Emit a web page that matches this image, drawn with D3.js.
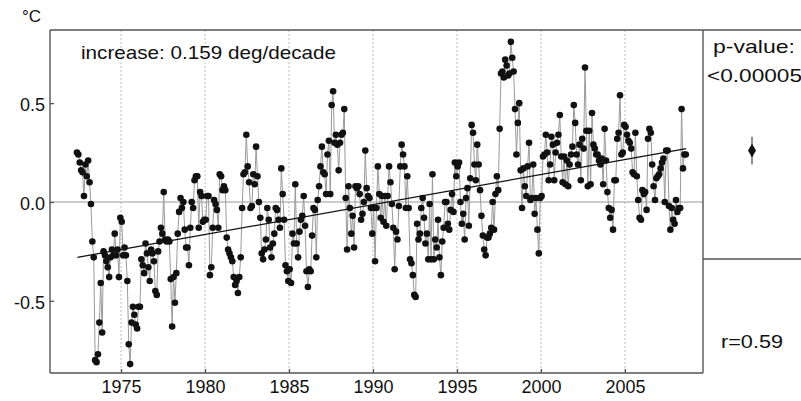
<!DOCTYPE html>
<html>
<head>
<meta charset="utf-8">
<script src="https://cdn.jsdelivr.net/npm/d3@7"></script>
<style>
  body { margin: 0; background: #fff; }
  svg text { font-family: "Liberation Sans", Arial, sans-serif; fill: #111; }
</style>
</head>
<body>
<div id="chart"></div>
<script>
/* DATA (monthly anomalies, deg C) */
const startYear = 1972.375; // first month (May 1972)

const anom1970s = [
  0.25, 0.24, 0.20, 0.16, 0.15, 0.03, 0.19, 0.13, 0.21, 0.10,
  -0.01, -0.20, -0.28, -0.80, -0.81, -0.77, -0.61, -0.41, -0.66, -0.25,
  -0.27, -0.30, -0.33, -0.38, -0.28, -0.24, -0.27, -0.16, -0.27, -0.24,
  -0.38, -0.08, -0.10, -0.27, -0.23, -0.27, -0.40, -0.72, -0.82, -0.61,
  -0.53, -0.57, -0.62, -0.64, -0.53, -0.53, -0.29, -0.32, -0.36, -0.21,
  -0.26, -0.33, -0.40, -0.24, -0.26, -0.30, -0.45, -0.47, -0.25, -0.20,
  -0.13, -0.16, 0.05, -0.19, -0.20,
  -0.19, -0.20, -0.39, -0.63, -0.38, -0.51, -0.36, -0.16, -0.05, 0.02,
  -0.03, 0.00, -0.14, -0.23, -0.23, -0.32, -0.13, 0.00, -0.03, 0.11,
  0.13, 0.13, -0.13, 0.05, 0.03, -0.10, -0.09
];

const anom1980s = [
  -0.09, 0.03, 0.03, -0.37, -0.33, -0.13, 0.01, -0.01, -0.04, -0.13,
  0.14, 0.13, 0.06, 0.08, 0.06, -0.18, -0.24, -0.26, -0.28, -0.30,
  -0.38, -0.42, -0.40, -0.46, -0.38, -0.28, -0.03, 0.14, 0.15, 0.34,
  0.18, 0.10, -0.03, -0.02, 0.14, 0.09, 0.28, 0.13, 0.00, -0.08,
  -0.26, -0.29, -0.24, -0.19,
  -0.03, -0.09, -0.23, -0.28, -0.21, -0.16, -0.03, -0.04, -0.09, -0.13,
  0.17, 0.04, -0.09, -0.32, -0.35, -0.40, -0.34, -0.41, -0.16,
  -0.21, 0.09, -0.21, -0.28, -0.15, -0.09, -0.07, 0.03, -0.12,
  -0.35, -0.43, -0.34, -0.35, -0.17, -0.03, -0.04, -0.28, 0.01, 0.08,
  0.18, 0.28, 0.15, 0.14, 0.04, 0.24, 0.31, 0.04, 0.49,
  0.56, 0.30, 0.34, 0.29, 0.16, 0.30, 0.34, 0.35, 0.47, 0.02,
  -0.24, 0.08, -0.03, -0.16, -0.07, -0.23, 0.08, 0.07, 0.08,
  0.04, -0.09, -0.06, 0.00, 0.26, 0.07, 0.03, 0.02, -0.03
];

const anom1990s = [
  -0.16, -0.03, -0.30, -0.03, 0.18, 0.04, -0.08, 0.03, -0.10,
  0.03, -0.12, 0.03, 0.18, 0.10, -0.01, -0.13, -0.34, -0.15, -0.19,
  -0.02, 0.18, 0.29, 0.24, 0.18, -0.03, 0.13, -0.03, -0.29, -0.31,
  -0.37, -0.47, -0.48, -0.11, -0.19, -0.16, -0.03, 0.02, -0.08, -0.21,
  -0.16, -0.29, -0.01, -0.29, 0.14, -0.29, -0.19, -0.23, -0.09, -0.28,
  -0.37, -0.20, -0.13, 0.00, 0.00, -0.11, -0.14, -0.04, 0.04, -0.05,
  0.20, 0.13, 0.18, 0.20, 0.00, -0.11, -0.06, -0.19, 0.02, 0.07,
  -0.12, 0.12, 0.39, 0.35, 0.19, 0.11, 0.29, 0.19, 0.06, -0.07,
  -0.17, -0.24, -0.27, -0.18, -0.18,
  -0.16, -0.13, 0.00, -0.14, 0.04, 0.13, 0.06, 0.37, 0.65, 0.66,
  0.63, 0.72, 0.69, 0.64, 0.65, 0.81, 0.73, 0.66, 0.47, 0.24,
  0.40, 0.50, 0.16, -0.03, 0.17, 0.08, 0.03, 0.18, 0.30, 0.01,
  0.02, 0.19, -0.06, 0.02, -0.14, -0.26, 0.02
];

const anom2000s = [
  0.03, 0.23, 0.24, 0.34, 0.25, 0.11, 0.19, 0.33, 0.29, 0.11,
  0.25, 0.30, 0.34, 0.44, 0.23, 0.10, 0.23, 0.09, 0.21, 0.08,
  0.19, 0.24, 0.28, 0.49, 0.40, 0.24, 0.19, 0.29, 0.11, 0.32,
  0.27, 0.68, 0.36, 0.08, 0.36,
  0.09, 0.45, 0.29, 0.27, 0.24, 0.24, 0.21, 0.19, 0.22, 0.09,
  0.37, 0.21, 0.05, -0.03, -0.08, -0.04, -0.14, 0.11, 0.11, 0.32,
  0.35, 0.54, 0.24, 0.25, 0.39, 0.38, 0.34, 0.31, 0.30, 0.27,
  0.15, 0.14, 0.35, 0.13, 0.01, -0.08, -0.09, 0.06, 0.04, 0.05,
  -0.04, 0.32, 0.37, 0.35, 0.19, 0.08, 0.01, 0.12, 0.13, 0.14,
  0.17, 0.20, 0.22, 0.00, 0.26, 0.26, -0.02, -0.14, -0.03, -0.09,
  -0.11, 0.01, -0.05, -0.03, -0.03, 0.47, 0.17, 0.24, 0.24
];

// linear trend as drawn (0.159 deg/decade)
const trendYears = [1972.4, 2008.65];
const trendValues = [-0.28, 0.27];

// side panel: mean with error bar
const panelMean = 0.26;
const panelErr = 0.07;

const yearTicks = [1975, 1980, 1985, 1990, 1995, 2000, 2005];
const valueTicks = [-0.5, 0.0, 0.5];

const trendLabel = "increase: 0.159 deg/decade";
const pLabel = ["p-value:", "<0.00005"];
const rLabel = "r=0.59";

/* LAYOUT */
const width = 801, height = 401;
const plot = { left: 50, right: 703, top: 30, bottom: 373 };
const panelSplit = 259;

const anomalies = [].concat(anom1970s, anom1980s, anom1990s, anom2000s);
const data = anomalies.map((v, i) => ({ year: startYear + i / 12, value: v }));

const svg = d3.select("#chart")
  .append("svg")
  .attr("width", width)
  .attr("height", height);

const xScale = d3.scaleLinear()
  .domain([1970.77, 2009.65])
  .range([plot.left, plot.right]);

const yScale = d3.scaleLinear()
  .domain([-0.865, 0.87])
  .range([plot.bottom, plot.top]);

// vertical dotted grid
svg.append("g")
  .selectAll("line")
  .data(yearTicks)
  .join("line")
  .attr("x1", d => xScale(d))
  .attr("x2", d => xScale(d))
  .attr("y1", plot.top)
  .attr("y2", plot.bottom)
  .attr("stroke", "#bdbdbd")
  .attr("stroke-width", 1)
  .attr("stroke-dasharray", "2,2");

// zero line
svg.append("line")
  .attr("x1", plot.left)
  .attr("x2", plot.right)
  .attr("y1", yScale(0))
  .attr("y2", yScale(0))
  .attr("stroke", "#9a9a9a")
  .attr("stroke-width", 1.2);

// axes
const yAxis = d3.axisLeft(yScale)
  .tickValues(valueTicks)
  .tickSize(-4)
  .tickPadding(5)
  .tickFormat(d => d3.format(".1f")(d).replace("\u2212", "-"));

const yAxisGroup = svg.append("g")
  .attr("transform", `translate(${plot.left},0)`)
  .call(yAxis);
yAxisGroup.select(".domain").remove();
yAxisGroup.selectAll("line").attr("stroke", "#555").attr("stroke-width", 1.3);
yAxisGroup.selectAll("text")
  .attr("font-size", 18)
  .attr("dy", "0.42em")
  .attr("font-family", "Liberation Sans, Arial, sans-serif")
  .attr("fill", "#111");

const xAxis = d3.axisBottom(xScale)
  .tickValues(yearTicks)
  .tickSize(-4)
  .tickPadding(7)
  .tickFormat(d3.format("d"));

const xAxisGroup = svg.append("g")
  .attr("transform", `translate(0,${plot.bottom})`)
  .call(xAxis);
xAxisGroup.select(".domain").remove();
xAxisGroup.selectAll("line").attr("stroke", "#555").attr("stroke-width", 1.3);
xAxisGroup.selectAll("text")
  .attr("font-size", 18)
  .attr("font-family", "Liberation Sans, Arial, sans-serif")
  .attr("fill", "#111");

// frame
const frame = svg.append("g")
  .attr("stroke", "#555")
  .attr("stroke-width", 1.4)
  .attr("fill", "none");
frame.append("line").attr("x1", plot.left).attr("x2", width).attr("y1", plot.top).attr("y2", plot.top);
frame.append("line").attr("x1", plot.left).attr("x2", plot.left).attr("y1", plot.top).attr("y2", plot.bottom);
frame.append("line").attr("x1", plot.left).attr("x2", plot.right).attr("y1", plot.bottom).attr("y2", plot.bottom);
frame.append("line").attr("x1", plot.right).attr("x2", plot.right).attr("y1", plot.top).attr("y2", plot.bottom);
frame.append("line").attr("x1", plot.right).attr("x2", width).attr("y1", panelSplit).attr("y2", panelSplit);

// connecting line
const lineGen = d3.line()
  .x(d => xScale(d.year))
  .y(d => yScale(d.value));

svg.append("path")
  .datum(data)
  .attr("d", lineGen)
  .attr("fill", "none")
  .attr("stroke", "#9a9a9a")
  .attr("stroke-width", 1);

// trend line
svg.append("path")
  .datum(trendYears.map((y, i) => ({ year: y, value: trendValues[i] })))
  .attr("d", lineGen)
  .attr("fill", "none")
  .attr("stroke", "#111")
  .attr("stroke-width", 1.3);

// dots
svg.append("g")
  .selectAll("circle")
  .data(data)
  .join("circle")
  .attr("cx", d => xScale(d.year))
  .attr("cy", d => yScale(d.value))
  .attr("r", 3.3)
  .attr("fill", "#111");

// labels
svg.append("text")
  .attr("x", 22)
  .attr("y", 22)
  .attr("font-size", 17)
  .text("\u00b0C");

svg.append("text")
  .attr("x", 81)
  .attr("y", 59)
  .attr("font-size", 19)
  .attr("textLength", 255)
  .attr("lengthAdjust", "spacingAndGlyphs")
  .text(trendLabel);

// side panel
const panelX = (plot.right + width) / 2;

svg.append("text")
  .attr("x", panelX + 2)
  .attr("y", 53)
  .attr("text-anchor", "middle")
  .attr("font-size", 19)
  .attr("textLength", 82)
  .attr("lengthAdjust", "spacingAndGlyphs")
  .text(pLabel[0]);

svg.append("text")
  .attr("x", 707)
  .attr("y", 82)
  .attr("font-size", 19)
  .attr("textLength", 95)
  .attr("lengthAdjust", "spacingAndGlyphs")
  .text(pLabel[1]);

svg.append("line")
  .attr("x1", panelX)
  .attr("x2", panelX)
  .attr("y1", yScale(panelMean + panelErr))
  .attr("y2", yScale(panelMean - panelErr))
  .attr("stroke", "#222")
  .attr("stroke-width", 1);

svg.append("path")
  .attr("transform", `translate(${panelX},${yScale(panelMean)})`)
  .attr("d", d3.symbol(d3.symbolDiamond, 55)())
  .attr("fill", "#111");

svg.append("text")
  .attr("x", panelX)
  .attr("y", 348)
  .attr("text-anchor", "middle")
  .attr("font-size", 19)
  .attr("textLength", 62)
  .attr("lengthAdjust", "spacingAndGlyphs")
  .text(rLabel);
</script>
</body>
</html>
